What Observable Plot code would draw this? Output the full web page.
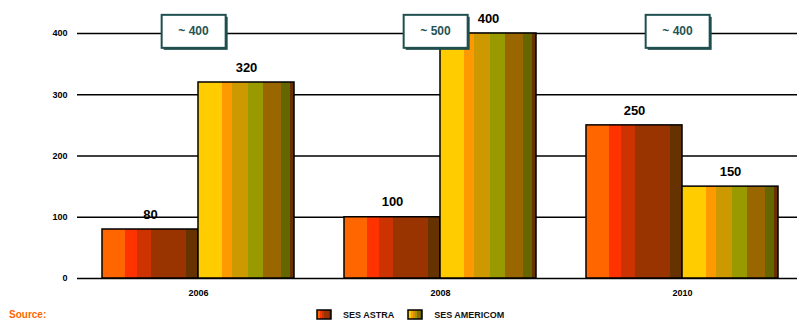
<!DOCTYPE html>
<html>
<head>
<meta charset="utf-8">
<script src="https://cdn.jsdelivr.net/npm/d3@7"></script>
<script src="https://cdn.jsdelivr.net/npm/@observablehq/plot@0.6"></script>
<style>
  body { margin: 0; background: #fff; font-family: "Liberation Sans", Arial, sans-serif; width: 797px; height: 323px; overflow: hidden; position: relative; }
  #legend { position: absolute; left: 316px; top: 309px; display: flex; align-items: center; font-size: 9px; font-weight: bold; color: #111; }
  #legend .item { display: flex; align-items: center; margin-right: 13px; }
  #legend svg { margin-right: 11px; }
  #source { position: absolute; left: 9px; top: 309px; font-size: 10px; font-weight: bold; color: #FF6600; }
</style>
</head>
<body>
<svg width="0" height="0" style="position:absolute">
  <defs>
    <linearGradient id="gAstra" x1="0" x2="1" y1="0" y2="0">
      <stop offset="0" stop-color="#FF6600"/><stop offset="0.236" stop-color="#FF6600"/>
      <stop offset="0.236" stop-color="#FF3300"/><stop offset="0.36" stop-color="#FF3300"/>
      <stop offset="0.36" stop-color="#CC3300"/><stop offset="0.51" stop-color="#CC3300"/>
      <stop offset="0.51" stop-color="#993300"/><stop offset="0.87" stop-color="#993300"/>
      <stop offset="0.87" stop-color="#663300"/><stop offset="1" stop-color="#663300"/>
    </linearGradient>
    <linearGradient id="gAmericom" x1="0" x2="1" y1="0" y2="0">
      <stop offset="0" stop-color="#FFCC00"/><stop offset="0.245" stop-color="#FFCC00"/>
      <stop offset="0.245" stop-color="#FF9900"/><stop offset="0.358" stop-color="#FF9900"/>
      <stop offset="0.358" stop-color="#CC9900"/><stop offset="0.526" stop-color="#CC9900"/>
      <stop offset="0.526" stop-color="#999900"/><stop offset="0.674" stop-color="#999900"/>
      <stop offset="0.674" stop-color="#996600"/><stop offset="0.867" stop-color="#996600"/>
      <stop offset="0.867" stop-color="#666600"/><stop offset="0.958" stop-color="#666600"/>
      <stop offset="0.958" stop-color="#663300"/><stop offset="1" stop-color="#663300"/>
    </linearGradient>
  </defs>
</svg>
<div id="chart"></div>
<div id="legend"></div>
<div id="source">Source:</div>
<script>
const years = ["2006", "2008", "2010"];
const seriesNames = ["SES ASTRA", "SES AMERICOM"];
const astraValues = [80, 100, 250];
const americomValues = [320, 400, 150];
const calloutLabels = ["~ 400", "~ 500", "~ 400"];
const yTicks = [0, 100, 200, 300, 400];
const gradients = {"SES ASTRA": "url(#gAstra)", "SES AMERICOM": "url(#gAmericom)"};

const rows = [];
years.forEach((yr, i) => {
  rows.push({year: yr, series: seriesNames[0], value: astraValues[i]});
  rows.push({year: yr, series: seriesNames[1], value: americomValues[i]});
});
const callouts = years.map((yr, i) => ({year: yr, label: calloutLabels[i], y: 400}));

const chart = Plot.plot({
  width: 797,
  height: 305,
  marginLeft: 76,
  marginRight: -6,
  marginTop: 33,
  marginBottom: 27,
  style: {fontFamily: "'Liberation Sans', Arial, sans-serif", background: "white"},
  fx: {domain: years, padding: 0, label: null},
  x: {domain: seriesNames, paddingInner: 0, paddingOuter: 0.25, axis: null},
  y: {domain: [0, 400], ticks: yTicks, label: null},
  marks: [
    Plot.ruleY(yTicks, {stroke: "#000", strokeWidth: 1.6}),
    Plot.axisY({ticks: yTicks, tickSize: 0, tickPadding: 10, fontSize: 9, fontWeight: "bold", label: null}),
    Plot.axisFx({anchor: "bottom", tickSize: 0, tickPadding: 11, fontSize: 9, fontWeight: "bold", label: null}),
    Plot.barY(rows.filter(d => d.series === seriesNames[0]), {fx: "year", x: "series", y: "value", fill: gradients["SES ASTRA"], stroke: "#000", strokeWidth: 1.5}),
    Plot.barY(rows.filter(d => d.series === seriesNames[1]), {fx: "year", x: "series", y: "value", fill: gradients["SES AMERICOM"], stroke: "#000", strokeWidth: 1.5}),
    Plot.text(rows, {fx: "year", x: "series", y: "value", text: d => String(d.value), dy: -15, fontSize: 13, fill: "#000", fontWeight: "bold"}),
    Plot.text(callouts, {fx: "year", y: "y", text: "label", dx: -5, dy: -2, fontSize: 12, fontWeight: "bold", fill: "#1F5555", className: "callout"})
  ]
});
document.getElementById("chart").appendChild(chart);

// Draw callout boxes behind the callout texts (positions come from the rendered texts)
d3.select(chart).selectAll("g.callout text").each(function() {
  const b = this.getBBox();
  const tr = this.getAttribute("transform") || "";
  const g = this.parentNode;
  const w = 64, h = 33;
  const cx = b.x + b.width / 2, cy = b.y + b.height / 2;
  const mk = (dx, dy, fill, stroke) => {
    const r = document.createElementNS("http://www.w3.org/2000/svg", "rect");
    r.setAttribute("transform", tr);
    r.setAttribute("x", cx - w / 2 + dx); r.setAttribute("y", cy - h / 2 + dy);
    r.setAttribute("width", w); r.setAttribute("height", h);
    r.setAttribute("fill", fill);
    if (stroke) { r.setAttribute("stroke", stroke); r.setAttribute("stroke-width", 2); }
    return r;
  };
  const shadow = mk(2, 2, "#1F4A4A");
  const box = mk(0, 0, "#fff", "#1F5050");
  g.insertBefore(box, this);
  g.insertBefore(shadow, box);
});

// Legend
const legend = d3.select("#legend");
seriesNames.forEach(name => {
  const item = legend.append("div").attr("class", "item");
  const s = item.append("svg").attr("width", 16).attr("height", 11);
  s.append("rect").attr("x", 1).attr("y", 1).attr("width", 14).attr("height", 9)
    .attr("fill", gradients[name]).attr("stroke", "#000").attr("stroke-width", 1.5);
  item.append("span").text(name);
});
</script>
</body>
</html>
